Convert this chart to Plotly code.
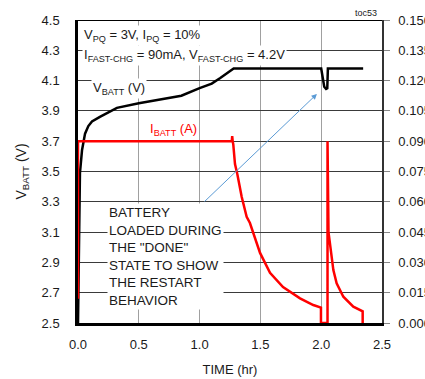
import plotly.graph_objects as go

# ---- data ----
vbatt_t = [0.0, 0.004, 0.010, 0.016, 0.033, 0.058, 0.085, 0.115, 0.18, 0.32, 0.50, 0.73, 0.85, 1.00,
           1.10, 1.17, 1.25, 1.28, 2.00, 2.01, 2.025, 2.04, 2.05, 2.055, 2.345]
vbatt_v = [2.50, 2.90, 3.25, 3.49, 3.64, 3.75, 3.80, 3.83, 3.86, 3.92, 3.95, 3.98, 4.00, 4.05,
           4.08, 4.117, 4.163, 4.18, 4.18, 4.12, 4.06, 4.045, 4.05, 4.18, 4.18]

ibatt_t = [0.0, 0.0, 1.265, 1.268, 1.272, 1.277, 1.291, 1.31, 1.346, 1.387, 1.414, 1.497, 1.579,
           1.686, 1.826, 1.935, 1.998, 1.998, 2.052, 2.052, 2.06, 2.086, 2.10, 2.127, 2.182,
           2.264, 2.333, 2.341, 2.341]
ibatt_a = [0.012, 0.090, 0.090, 0.0925, 0.090, 0.0884, 0.0787, 0.0738, 0.0625, 0.0526, 0.0495,
           0.0347, 0.0248, 0.0178, 0.0122, 0.0089, 0.0076, 0.0, 0.0, 0.090, 0.045, 0.0328,
           0.0262, 0.0197, 0.013, 0.0081, 0.0061, 0.0058, 0.0]

x_ticks = [0.0, 0.5, 1.0, 1.5, 2.0, 2.5]
v_ticks = [2.5, 2.7, 2.9, 3.1, 3.3, 3.5, 3.7, 3.9, 4.1, 4.3, 4.5]
i_ticks = [0.000, 0.015, 0.030, 0.045, 0.060, 0.075, 0.090, 0.105, 0.120, 0.135, 0.150]

FONT = "Liberation Sans, Arial, sans-serif"
TXT = "#1a1a1a"
FS = 13

fig = go.Figure()
fig.add_trace(go.Scatter(x=vbatt_t, y=vbatt_v, mode="lines",
                         line=dict(color="black", width=2.5), yaxis="y", showlegend=False))
fig.add_trace(go.Scatter(x=ibatt_t, y=ibatt_a, mode="lines",
                         line=dict(color="#ff0000", width=2.5), yaxis="y2", showlegend=False))

fig.update_layout(
    width=425, height=379,
    margin=dict(l=78, r=43, t=20, b=56),
    paper_bgcolor="white", plot_bgcolor="white",
    font=dict(family=FONT, size=FS, color=TXT),
    xaxis=dict(range=[0, 2.5], tickvals=x_ticks, tickformat=".1f", automargin=False,
               showline=True, linecolor="black", linewidth=2.5,
               showgrid=True, gridcolor="#a0a0a0", gridwidth=1, zeroline=False,
               ticks="", ticklabelstandoff=8,
               title=dict(text="TIME (hr)", standoff=14, font=dict(size=FS))),
    yaxis=dict(range=[2.5, 4.5], tickvals=v_ticks, tickformat=".1f", automargin=False,
               showline=True, linecolor="black", linewidth=2.5,
               showgrid=True, gridcolor="#3a3a3a", gridwidth=1, zeroline=False,
               ticks="", ticklabelstandoff=13,
               title=dict(text="V<sub>BATT</sub> (V)", standoff=12, font=dict(size=14))),
    yaxis2=dict(range=[0, 0.15], tickvals=i_ticks, tickformat=".3f", automargin=False,
                overlaying="y", side="right",
                showline=True, linecolor="#333", linewidth=1.5,
                showgrid=False, zeroline=False,
                ticks="outside", ticklen=6, tickcolor="#888", ticklabelstandoff=6),
)

fig.add_shape(type="line", xref="x", yref="y", x0=0, x1=2.5, y0=4.5, y1=4.5,
              line=dict(color="black", width=2))

ann = [
    dict(x=0.03, y=4.40, text="V<sub>PQ</sub> = 3V, I<sub>PQ</sub> = 10%"),
    dict(x=0.03, y=4.265, text="I<sub>FAST-CHG</sub> = 90mA, V<sub>FAST-CHG</sub> = 4.2V"),
    dict(x=0.11, y=4.05, text="V<sub>BATT</sub> (V)"),
    dict(x=0.575, y=3.775, text="I<sub>BATT</sub> (A)", font=dict(color="#ff0000", size=FS, family=FONT)),
    dict(x=0.235, y=2.94, text="BATTERY<br>LOADED DURING<br>THE \"DONE\"<br>STATE TO SHOW<br>THE RESTART<br>BEHAVIOR",
         font=dict(size=13.5, family=FONT, color=TXT)),
]
for a in ann:
    fig.add_annotation(xref="x", yref="y", xanchor="left", yanchor="middle", align="left",
                       showarrow=False, bgcolor="white", borderpad=1,
                       font=a.pop("font", dict(size=FS, family=FONT, color=TXT)), **a)

fig.add_annotation(xref="x", yref="y", axref="x", ayref="y",
                   x=1.965, y=4.012, ax=1.028, ay=3.292, text="",
                   showarrow=True, arrowhead=2, arrowsize=1.1, arrowwidth=1,
                   arrowcolor="#5b9bd5")

fig.add_annotation(xref="paper", yref="paper", x=0.99, y=1.0, xanchor="right", yanchor="bottom",
                   text="toc53", showarrow=False, font=dict(size=9, family=FONT, color=TXT))

# remove the browser's default 8px body margin so the figure fills the window exactly
fig.write_html("out.html",
               config={"displayModeBar": False},
               post_script="document.body.style.margin='0px';document.body.style.overflow='hidden';")
